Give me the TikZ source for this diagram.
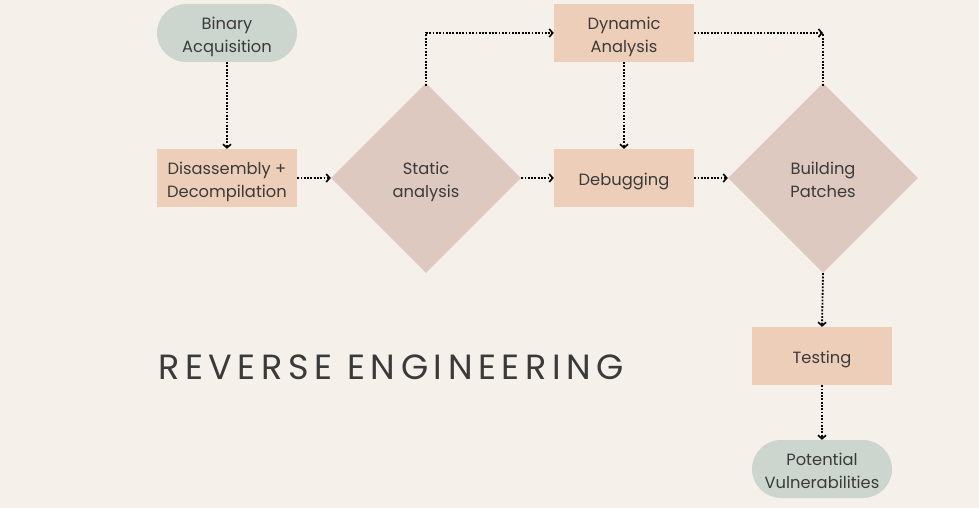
\documentclass[tikz,border=0pt]{standalone}
\usepackage{fontspec}
\setmainfont{Poppins}
\newfontfamily\titlefont[LetterSpace=16]{Poppins}
\usetikzlibrary{shapes.geometric,arrows.meta}
\definecolor{bgc}{HTML}{F5F0EA}
\definecolor{greenc}{HTML}{CCD6CE}
\definecolor{peachc}{HTML}{EDCFB9}
\definecolor{rosec}{HTML}{DEC9C0}
\definecolor{txtc}{HTML}{3A3A3A}
\newcommand\lbl[1]{\raisebox{-3pt}[\height][\depth]{\begin{tabular}{@{}c@{}}#1\end{tabular}}}
\tikzset{
  every node/.style={font=\fontsize{16.3}{23}\selectfont, text=txtc, align=center},
  termbox/.style={fill=greenc, minimum width=140pt, minimum height=58pt, rounded corners=29pt, inner sep=0pt},
  procbox/.style={fill=peachc, minimum width=140pt, minimum height=58pt, inner sep=0pt},
  decbox/.style={diamond, fill=rosec, minimum width=190pt, minimum height=190pt, inner sep=0pt, aspect=1},
  flow/.style={black, line width=1.8pt, dash pattern=on 1.8pt off 1.5pt, -{Straight Barb[length=3.5pt,width=8pt,line width=1.6pt]}},
  flowplain/.style={black, line width=1.8pt, dash pattern=on 1.8pt off 1.5pt}
}
\begin{document}
\begin{tikzpicture}[x=1pt,y=1pt]
\fill[bgc] (0,0) rectangle (979,-508);
\useasboundingbox (0,0) rectangle (979,-508);
\node[termbox] (bin) at (227,-33) {\lbl{Binary\\Acquisition}};
\node[procbox] (dis) at (227,-178) {\lbl{Disassembly +\\Decompilation}};
\node[decbox] (sta) at (426,-178) {\lbl{Static\\analysis}};
\node[procbox] (dyn) at (624,-33) {\lbl{Dynamic\\Analysis}};
\node[procbox] (dbg) at (624,-178) {\lbl{Debugging}};
\node[decbox] (bld) at (823,-178) {\lbl{Building\\Patches}};
\node[procbox] (tst) at (822,-356) {\lbl{Testing}};
\node[termbox] (pot) at (822,-469) {\lbl{Potential\\Vulnerabilities}};
\node[anchor=base west, inner sep=0pt, font=\titlefont\fontsize{35}{40}\selectfont, text=txtc] (title) at (158,-379) {REVERSE ENGINEERING};
\coordinate (corner) at (823,-33);
\draw[flow] (bin.south) -- (dis.north);
\draw[flow] (dis.east) -- (sta.west);
\draw[flow] ([yshift=-3pt]sta.north) |- (dyn.west);
\draw[flow] (dyn.south) -- (dbg.north);
\draw[flow] (sta.east) -- (dbg.west);
\draw[flow] (dbg.east) -- (bld.west);
\draw[flow] (dyn.east) -- (corner);
\draw[flowplain] ([yshift=-3pt]bld.north) -- (corner);
\draw[flow] (bld.south) -- (tst.north);
\draw[flow] (tst.south) -- (pot.north);
\end{tikzpicture}
\end{document}
